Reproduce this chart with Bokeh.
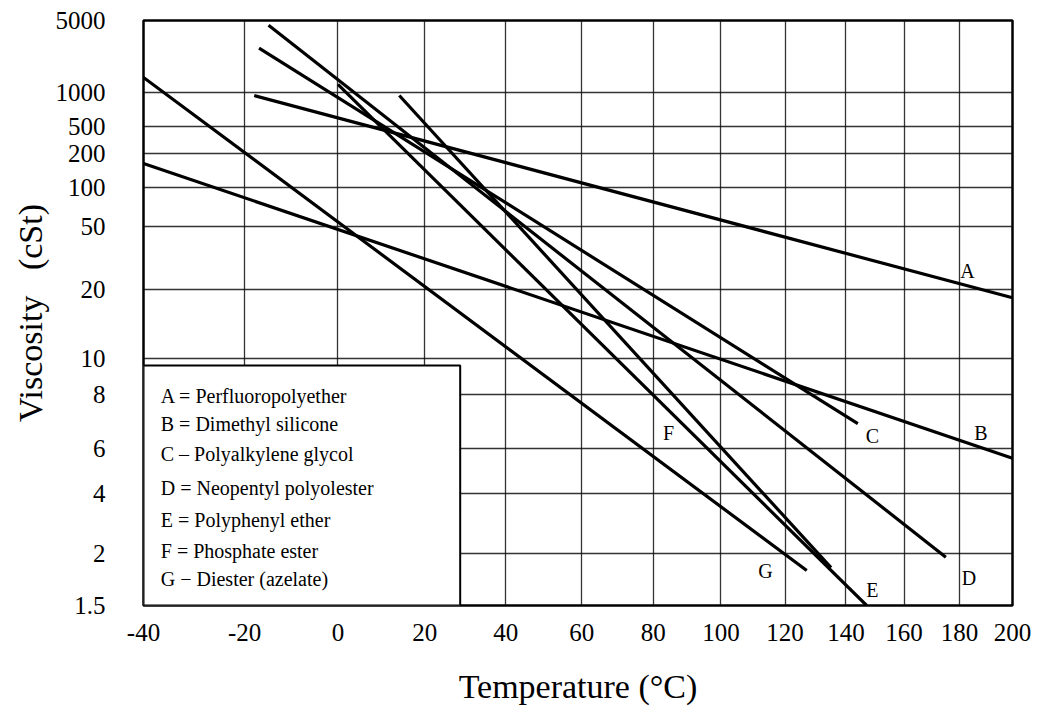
import numpy as np
from bokeh.plotting import figure
from bokeh.models import FixedTicker, CustomJSTickFormatter, ColumnDataSource
from bokeh.core.properties import value
from bokeh.embed import file_html
from bokeh.resources import INLINE

# ---------------- data ----------------
x_tick_temps = [-40, -20, 0, 20, 40, 60, 80, 100, 120, 140, 160, 180, 200]
y_tick_visc = [5000, 1000, 500, 200, 100, 50, 20, 10, 8, 6, 4, 2, 1.5]
y_tick_labels = ["5000", "1000", "500", "200", "100", "50", "20", "10", "8", "6", "4", "2", "1.5"]

line_ids = ["A", "B", "C", "D", "E", "F", "G"]
line_names = ["Perfluoropolyether", "Dimethyl silicone", "Polyalkylene glycol",
              "Neopentyl polyolester", "Polyphenyl ether", "Phosphate ester",
              "Diester (azelate)"]
legend_sep = ["=", "=", "\u2013", "=", "=", "=", "\u2212"]
t_start = [-18, -40, -17, -15, 0, 14, -40]
t_end = [200, 200, 144, 175, 147, 135, 127]
v_start = [940, 163, 2700, 4500, 1200, 940, 1400]
v_end = [18.4, 5.5, 6.85, 1.96, 1.5, 1.85, 1.82]

# curve letter labels (temperature, viscosity)
lab_t = [183, 188, 149, 183.5, 149, 84.4, 113.8]
lab_v = [26, 6.5, 6.4, 1.75, 1.63, 6.5, 1.82]

# ---------------- chart scale (layout) ----------------
# vertical position of each printed viscosity tick on the chart paper
y_tick_pos = [585, 513, 479, 452, 418, 379, 316, 247, 211, 157, 112, 52, 0]
_lv = np.log10(np.array(y_tick_visc, dtype=float))[::-1]
_up = np.array(y_tick_pos, dtype=float)[::-1]


def ty(v):
    return np.interp(np.log10(np.asarray(v, dtype=float)), _lv, _up)


def tx(t):
    return np.log10(np.asarray(t, dtype=float) + 273.15)


SERIF = "Liberation Serif"
GLYPH_SERIF = value('"Liberation Serif", "Times New Roman", serif')

p = figure(width=1041, height=712, output_backend="svg", toolbar_location=None,
           x_range=(float(tx(-40)), float(tx(200))), y_range=(0, 585),
           min_border_left=143, min_border_right=29, min_border_top=20, min_border_bottom=107)

p.background_fill_color = "white"
p.border_fill_color = "white"
p.outline_line_color = "black"
p.outline_line_width = 2.5

xt = [float(v) for v in tx(x_tick_temps)]
xl = [str(t) for t in x_tick_temps]
yt = [float(v) for v in y_tick_pos]

JS = """
let b = 0;
for (let i = 0; i < tpos.length; i++) { if (Math.abs(tpos[i]-tick) < Math.abs(tpos[b]-tick)) b = i; }
return tlab[b];
"""
p.xaxis.ticker = FixedTicker(ticks=xt)
p.xaxis.formatter = CustomJSTickFormatter(args=dict(tpos=xt, tlab=xl), code=JS)
p.yaxis.ticker = FixedTicker(ticks=yt)
p.yaxis.formatter = CustomJSTickFormatter(args=dict(tpos=yt, tlab=y_tick_labels), code=JS)

p.xgrid.ticker = FixedTicker(ticks=xt)
p.ygrid.ticker = FixedTicker(ticks=yt)
for g in (p.xgrid, p.ygrid):
    g.grid_line_color = "#111111"
    g.grid_line_width = 1.3
    g.grid_line_alpha = 0.85

for ax in (p.xaxis, p.yaxis):
    ax.axis_line_color = None
    ax.major_tick_line_color = None
    ax.minor_tick_line_color = None
    ax.major_label_text_font = SERIF
    ax.major_label_text_font_size = "25px"
    ax.major_label_text_color = "black"
    ax.axis_label_text_font = SERIF
    ax.axis_label_text_font_size = "34px"
    ax.axis_label_text_font_style = "normal"
    ax.axis_label_text_color = "black"

p.xaxis.major_label_standoff = 12
p.xaxis.axis_label = "Temperature (\u00b0C)"
p.xaxis.axis_label_standoff = 24
p.yaxis.major_label_standoff = 32
p.yaxis.axis_label = "Viscosity\u2002 (cSt)"
p.yaxis.axis_label_standoff = 4

# curves
for i in range(len(line_ids)):
    p.line(x=list(tx([t_start[i], t_end[i]])), y=list(ty([v_start[i], v_end[i]])),
           line_color="black", line_width=3.2)

# curve letters
lab_src = ColumnDataSource(dict(x=tx(lab_t), y=ty(lab_v), text=line_ids))
p.text(x="x", y="y", text="text", source=lab_src, text_font=GLYPH_SERIF,
       text_font_size="20px", text_align="center", text_baseline="middle", text_color="black")

# legend box (layout)
p.quad(left=[float(tx(-40))], right=[float(tx(28.6))], bottom=[0], top=[240],
       fill_color="white", fill_alpha=1.0, line_color="black", line_width=2)

leg_text = [f"{a} {s} {n}" for a, s, n in zip(line_ids, legend_sep, line_names)]
leg_y = [210, 182, 152, 118, 86, 55, 27]
leg_src = ColumnDataSource(dict(x=[float(tx(-36.7))] * 7, y=leg_y, text=leg_text))
p.text(x="x", y="y", text="text", source=leg_src, text_font=GLYPH_SERIF,
       text_font_size="20px", text_align="left", text_baseline="middle", text_color="black")

open("out.html", "w").write(file_html(p, INLINE))
